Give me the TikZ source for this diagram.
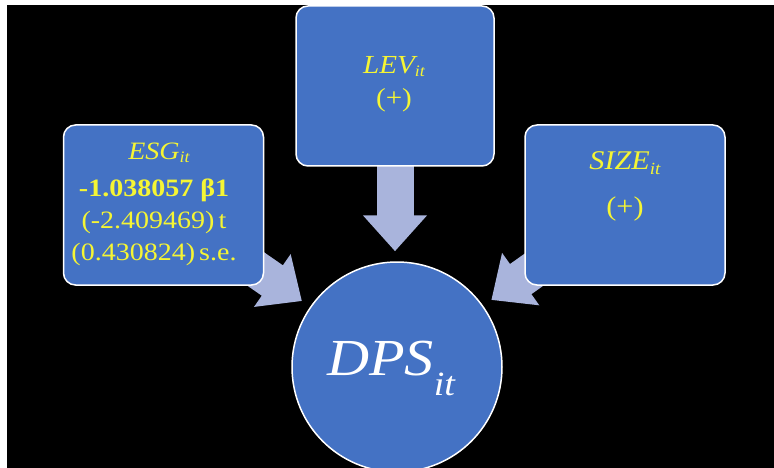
\documentclass[tikz,border=0pt]{standalone}
\usepackage{fontspec}
\setmainfont{Liberation Serif}[FakeStretch=1.12]
\usetikzlibrary{arrows.meta,backgrounds}
\definecolor{boxblue}{HTML}{4472C4}
\definecolor{arrowblue}{HTML}{A9B4DC}
\definecolor{ylw}{HTML}{F5F534}
\newcommand{\mysub}[2]{\raisebox{-#2}{\fontsize{#1}{#1}\selectfont\itshape it}}
\begin{document}
\begin{tikzpicture}[x=1pt,y=-1pt,
  box/.style={draw=white, line width=1.5pt, fill=boxblue, rounded corners=12pt,
    minimum width=200pt, minimum height=160pt, inner sep=0pt},
  circ/.style={circle, draw=white, line width=1.5pt, fill=boxblue, minimum size=210pt, inner sep=0pt},
  blockarrow/.style={draw=arrowblue, line width=37pt, shorten >=10pt,
    -{Triangle[length=36pt,width=62pt]}},
  ytext/.style={text=ylw, align=center, inner sep=0pt}]
\useasboundingbox (0,0) rectangle (774,468);
\clip (0,0) rectangle (774,468);
\node[box] (esg) at (163.5,205) {};
\node[box, minimum width=198pt] (lev) at (395,86) {};
\node[box] (size) at (625,205) {};
\node[circ] (dps) at (397,367) {};
\node[ytext, font=\fontsize{25}{32}\selectfont] (esgt) at (154,204)
  {\hspace*{10pt}{\itshape ESG}\mysub{16pt}{3pt}\\[5pt]\textbf{-1.038057 β1}\\(-2.409469)\,t\\(0.430824)\,s.e.};
\node[ytext, font=\fontsize{26}{33}\selectfont] (levt) at (394,84)
  {{\itshape LEV}\mysub{16pt}{3pt}\\(+)};
\node[ytext, font=\fontsize{27}{32}\selectfont] (sizet) at (625,186)
  {{\itshape SIZE}\mysub{17pt}{5pt}\\[14pt](+)};
\node[text=white, inner sep=0pt, font=\fontsize{52}{52}\selectfont] (dpst) at (391,368)
  {{\itshape DPS}\mysub{34pt}{20pt}};
\begin{pgfonlayer}{background}
  \fill[white] (0,0) rectangle (774,468);
  \fill[black] (7,5) rectangle (774,468);
  \draw[blockarrow] (lev.center) -- (lev.center |- dps.north);
  \draw[blockarrow] (esg.center) -- (dps);
  \draw[blockarrow] (size.center) -- (dps);
\end{pgfonlayer}
\end{tikzpicture}
\end{document}
